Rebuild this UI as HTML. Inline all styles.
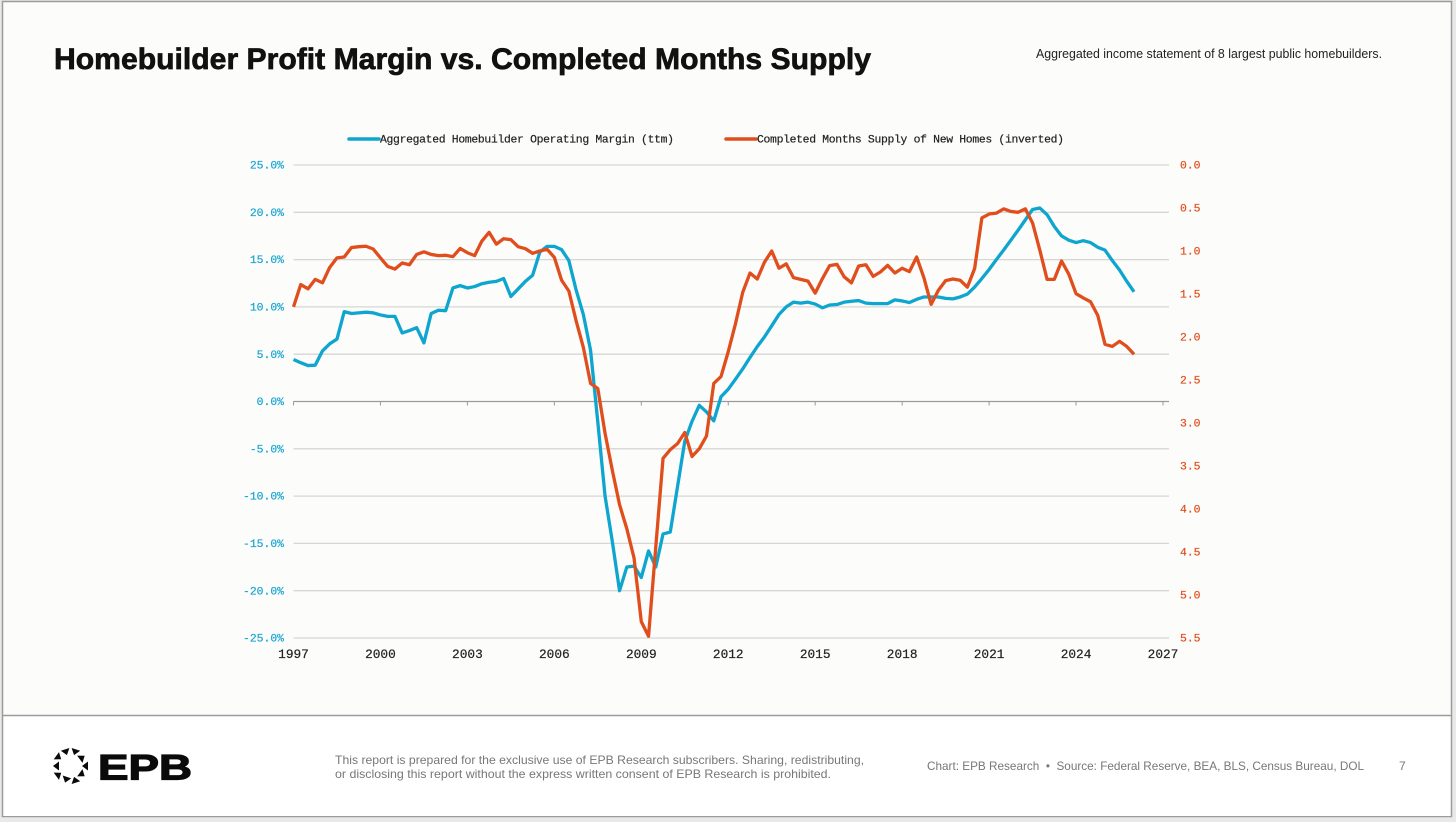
<!DOCTYPE html>
<html lang="en">
<head>
<meta charset="utf-8">
<title>Homebuilder Profit Margin vs. Completed Months Supply</title>
<style>
html,body{margin:0;padding:0;width:1456px;height:822px;overflow:hidden;background:#e9e9e9;}
svg{display:block;}
text{font-family:"Liberation Sans",sans-serif;}
.mono{font-family:"Liberation Mono",monospace;stroke-width:0.2px;}
</style>
</head>
<body>
<svg id="slide" width="1456" height="822" viewBox="0 0 1456 822" xmlns="http://www.w3.org/2000/svg">
  <rect x="2.5" y="1.5" width="1449" height="815" fill="#fcfcfa" stroke="#9b9b9b" stroke-width="1.5"/>
  <rect x="3.5" y="716" width="1447" height="100" fill="#ffffff"/>
  <line x1="3" y1="715.5" x2="1451" y2="715.5" stroke="#9b9b9b" stroke-width="1.5"/>

  <text x="54" y="69" font-size="30" font-weight="700" fill="#111111" stroke="#111111" stroke-width="0.7" textLength="817" lengthAdjust="spacingAndGlyphs">Homebuilder Profit Margin vs. Completed Months Supply</text>
  <text x="1036" y="58" font-size="12.5" fill="#222222" textLength="346" lengthAdjust="spacingAndGlyphs">Aggregated income statement of 8 largest public homebuilders.</text>

  <g>
    <line x1="349" y1="139" x2="379" y2="139" stroke="#0ea5cf" stroke-width="3.5" stroke-linecap="round"/>
    <text class="mono" x="380" y="142.5" font-size="11.4" fill="#222222" stroke="#222222" textLength="294">Aggregated Homebuilder Operating Margin (ttm)</text>
    <line x1="726" y1="139" x2="756" y2="139" stroke="#e04e1d" stroke-width="3.5" stroke-linecap="round"/>
    <text class="mono" x="757" y="142.5" font-size="11.4" fill="#222222" stroke="#222222" textLength="307">Completed Months Supply of New Homes (inverted)</text>
  </g>

  <g id="grid"></g>
  <g id="axes"></g>
  <g id="series"></g>

  <g>
    <g fill="#0a0a0a">
      <polygon points="-4.5,-17.5 4.5,-17.5 0,-11.5" transform="translate(70.5 766) rotate(-18)"/>
      <polygon points="-4.5,-17.5 4.5,-17.5 0,-11.5" transform="translate(70.5 766) rotate(18) scale(-1 1)"/>
      <polygon points="-4.5,-11.5 4.5,-11.5 0,-17.5" transform="translate(70.5 766) rotate(54)"/>
      <polygon points="-4.5,-17.5 4.5,-17.5 0,-11.5" transform="translate(70.5 766) rotate(90)"/>
      <polygon points="-4.5,-11.5 4.5,-11.5 0,-17.5" transform="translate(70.5 766) rotate(126)"/>
      <polygon points="-4.5,-17.5 4.5,-17.5 0,-11.5" transform="translate(70.5 766) rotate(162)"/>
      <polygon points="-4.5,-11.5 4.5,-11.5 0,-17.5" transform="translate(70.5 766) rotate(198)"/>
      <polygon points="-4.5,-17.5 4.5,-17.5 0,-11.5" transform="translate(70.5 766) rotate(234)"/>
      <polygon points="-4.5,-11.5 4.5,-11.5 0,-17.5" transform="translate(70.5 766) rotate(270)"/>
      <polygon points="-4.5,-17.5 4.5,-17.5 0,-11.5" transform="translate(70.5 766) rotate(306)"/>
    </g>
    <text x="98" y="779.5" font-size="35" font-weight="700" fill="#0a0a0a" stroke="#0a0a0a" stroke-width="1.2" textLength="94" lengthAdjust="spacingAndGlyphs">EPB</text>
  </g>

  <text x="335" y="764" font-size="12" fill="#777777" textLength="529" lengthAdjust="spacingAndGlyphs">This report is prepared for the exclusive use of EPB Research subscribers. Sharing, redistributing,</text>
  <text x="335" y="778" font-size="12" fill="#777777" textLength="496" lengthAdjust="spacingAndGlyphs">or disclosing this report without the express written consent of EPB Research is prohibited.</text>
  <text x="927" y="770" font-size="12" fill="#777777" textLength="437" lengthAdjust="spacingAndGlyphs" xml:space="preserve">Chart: EPB Research  •  Source: Federal Reserve, BEA, BLS, Census Bureau, DOL</text>
  <text x="1399" y="770" font-size="12" fill="#777777">7</text>
</svg>

<script>
const marginTicks = [25, 20, 15, 10, 5, 0, -5, -10, -15, -20, -25];
const supplyTicks = [0, 0.5, 1, 1.5, 2, 2.5, 3, 3.5, 4, 4.5, 5, 5.5];
const yearTicks = [1997, 2000, 2003, 2006, 2009, 2012, 2015, 2018, 2021, 2024, 2027];
const firstYear = 1997;
const pointsPerYear = 4;

const operatingMargin = [
  4.44, 4.1, 3.8, 3.84, 5.35, 6.1, 6.6, 9.5, 9.3, 9.37, 9.44, 9.37,
  9.15, 9.0, 9.0, 7.25, 7.5, 7.8, 6.2, 9.3, 9.65, 9.6, 12.0, 12.25,
  12.0, 12.15, 12.45, 12.6, 12.7, 13.0, 11.1, 11.9, 12.7, 13.35, 15.8, 16.4,
  16.4, 16.05, 14.9, 11.8, 9.2, 5.4, -2.2, -10.0, -14.8, -20.0, -17.5, -17.4,
  -18.6, -15.8, -17.5, -14.0, -13.8, -9.0, -4.2, -2.1, -0.4, -1.1, -2.05, 0.5,
  1.3, 2.36, 3.45, 4.65, 5.8, 6.83, 8.0, 9.2, 10.0, 10.5, 10.4, 10.5,
  10.3, 9.9, 10.2, 10.25, 10.5, 10.6, 10.67, 10.4, 10.35, 10.35, 10.35, 10.74,
  10.63, 10.46, 10.8, 11.05, 11.05, 11.05, 10.9, 10.85, 11.05, 11.35, 12.1, 13.0,
  13.95, 15.0, 16.0, 17.05, 18.1, 19.2, 20.3, 20.45, 19.75, 18.5, 17.5, 17.05,
  16.8, 17.0, 16.8, 16.3, 16.0, 14.9, 13.9, 12.7, 11.6
];

const monthsSupply = [
  1.65, 1.39, 1.44, 1.33, 1.37, 1.19, 1.08, 1.07, 0.96, 0.95, 0.945, 0.977,
  1.08, 1.18, 1.21, 1.14, 1.16, 1.04, 1.01, 1.04, 1.054, 1.05, 1.066, 0.97,
  1.02, 1.054, 0.884, 0.783, 0.92, 0.857, 0.868, 0.95, 0.973, 1.027, 1.0, 0.98,
  1.074, 1.34, 1.465, 1.81, 2.12, 2.54, 2.6, 3.12, 3.55, 3.95, 4.23, 4.57,
  5.31, 5.48, 4.44, 3.41, 3.31, 3.24, 3.11, 3.39, 3.3, 3.15, 2.54, 2.46,
  2.17, 1.845, 1.48, 1.256, 1.326, 1.13, 1.0, 1.2, 1.15, 1.31, 1.33, 1.35,
  1.49, 1.32, 1.17, 1.155, 1.3, 1.37, 1.174, 1.16, 1.295, 1.244, 1.167, 1.256,
  1.2, 1.24, 1.07, 1.31, 1.62, 1.457, 1.345, 1.326, 1.34, 1.42, 1.205, 0.616,
  0.57, 0.56, 0.51, 0.54, 0.55, 0.51, 0.674, 0.99, 1.33, 1.33, 1.116, 1.27,
  1.496, 1.546, 1.59, 1.75, 2.085, 2.11, 2.05, 2.11, 2.2
];

const NS = 'http://www.w3.org/2000/svg';
const BLUE = '#0ea5cf';
const RED = '#e04e1d';
const gridLayer = document.getElementById('grid');
const axesLayer = document.getElementById('axes');
const seriesLayer = document.getElementById('series');

function xScale(year) { return 293.5 + (year - 1997) * (1163 - 293.5) / 30; }
function yLeft(pct) { return 165 + (25 - pct) * (638 - 165) / 50; }
function yRight(v) { return 165 + v * (638 - 165) / 5.5; }

function makeSvg(tag, parent, attrs, content) {
  const el = document.createElementNS(NS, tag);
  Object.keys(attrs).forEach(function (k) { el.setAttribute(k, attrs[k]); });
  if (content !== undefined) el.textContent = content;
  parent.appendChild(el);
  return el;
}

marginTicks.forEach(function (t) {
  const y = yLeft(t);
  const zero = t === 0;
  const line = makeSvg('line', gridLayer, { x1: 293.5, x2: 1169, y1: y, y2: y, stroke: zero ? '#9a9a9a' : '#d6d6d4', 'stroke-width': 1.3 });
  
  
  const label = makeSvg('text', axesLayer, { x: 284, y: y + 3.6, 'text-anchor': 'end', 'font-size': 11.4, fill: '#17a5d0', stroke: '#17a5d0', class: 'mono' }, t.toFixed(1) + '%');
  
  
});

supplyTicks.forEach(function (t) {
  const label = makeSvg('text', axesLayer, { x: 1180, y: yRight(t) + 3.6, 'font-size': 11.4, fill: RED, stroke: RED, class: 'mono' }, t.toFixed(1));
  
  
});

yearTicks.forEach(function (t) {
  const x = xScale(t);
  const tick = makeSvg('line', axesLayer, { x1: x, x2: x, y1: yLeft(0), y2: yLeft(0) + 4, stroke: '#9a9a9a', 'stroke-width': 1 });
  
  
  const label = makeSvg('text', axesLayer, { x: x, y: 658, 'text-anchor': 'middle', 'font-size': 12.8, fill: '#222222', stroke: '#222222', class: 'mono' }, String(t));
  
  
});

function pathFrom(values, yFn) {
  return values.map(function (v, i) {
    const x = xScale(firstYear + i / pointsPerYear);
    return (i ? 'L' : 'M') + x.toFixed(2) + ' ' + yFn(v).toFixed(2);
  }).join(' ');
}

const marginLine = makeSvg('path', seriesLayer, { d: pathFrom(operatingMargin, yLeft), fill: 'none', stroke: BLUE, 'stroke-width': 3.3, 'stroke-linejoin': 'round' });



const supplyLine = makeSvg('path', seriesLayer, { d: pathFrom(monthsSupply, yRight), fill: 'none', stroke: RED, 'stroke-width': 3.3, 'stroke-linejoin': 'round' });


</script>
</body>
</html>
